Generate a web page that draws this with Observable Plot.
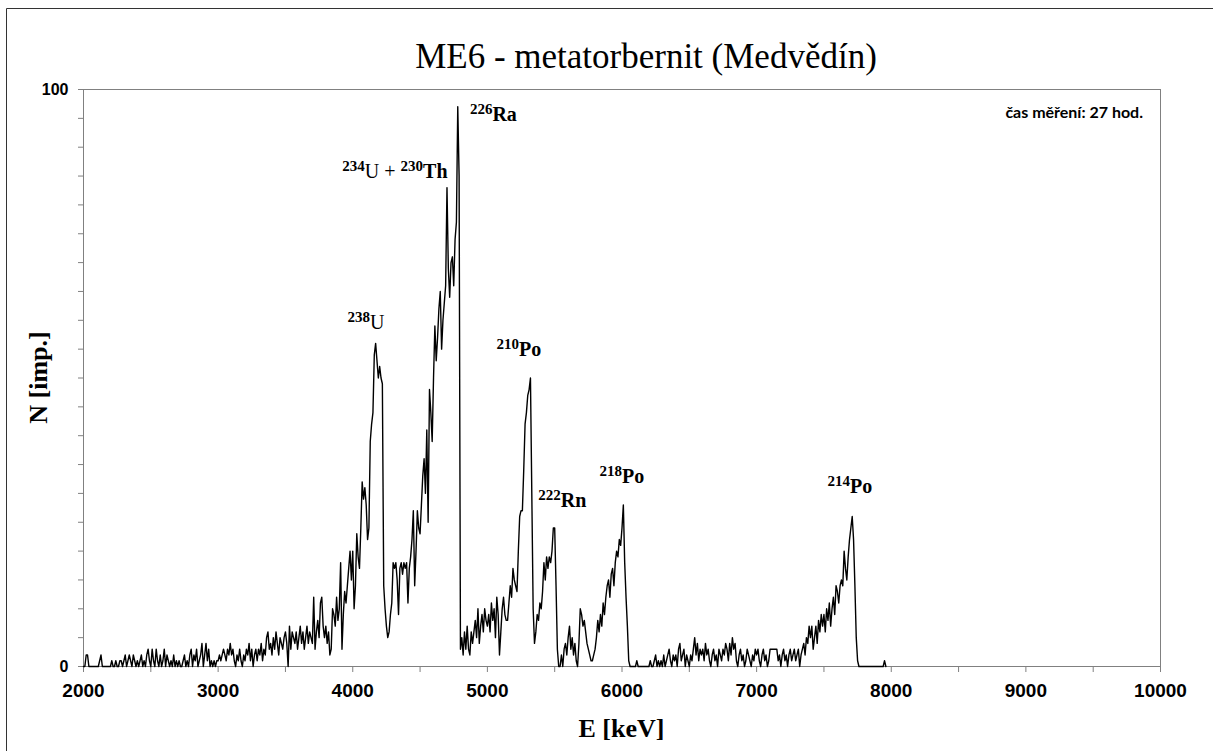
<!DOCTYPE html>
<html><head><meta charset="utf-8">
<script src="https://cdn.jsdelivr.net/npm/d3@7"></script>
<script src="https://cdn.jsdelivr.net/npm/@observablehq/plot@0.6"></script>
<style>body{margin:0;background:#fff} svg{display:block}</style>
</head><body><div id="chart"></div>
<script>
const title = "ME6 - metatorbernit (Medvědín)";
const xLabel = "E [keV]";
const yLabel = "N [imp.]";
const note = "čas měření: 27 hod.";

// spectrum: counts per 10 keV channel starting at 2000 keV
const startEnergy = 2000;
const channelWidth = 10;
const counts = [
  0,0,2,2,0,0,0,0,0,0,
  0,0,1,2,0,0,0,0,0,0,
  0,1,0,0,1,0,0,1,1,0,
  1,2,0,1,2,1,0,2,1,0,
  1,0,1,2,0,1,0,2,3,1,
  0,3,1,0,3,1,0,2,0,1,
  3,0,2,1,0,1,0,2,0,1,
  0,1,0,0,1,2,0,1,0,2,
  3,0,2,1,3,0,1,2,4,0,
  2,4,1,3,0,1,0,1,0,1,
  1,2,1,2,3,2,1,3,2,4,
  2,3,1,0,2,1,3,1,0,2,
  1,3,2,4,1,3,0,2,3,1,
  3,2,4,1,3,2,5,6,3,4,
  2,5,3,6,4,2,5,4,3,5,
  6,4,0,7,3,6,5,4,6,3,
  5,7,4,6,3,5,7,4,6,5,
  4,12,3,6,8,5,11,12,7,5,
  7,4,6,2,3,10,9,7,12,8,
  10,18,3,9,13,11,14,17,20,15,
  20,10,14,23,19,17,24,32,29,31,
  28,22,24,39,42,44,54,56,53,50,
  52,50,49,14,10,7,5,6,9,11,
  18,17,18,15,9,17,18,16,18,17,
  18,11,17,19,22,27,14,20,27,24,
  23,28,33,36,30,41,25,48,44,39,
  50,59,53,57,62,65,55,60,63,66,
  83,69,64,70,71,66,74,77,97,85,
  3,5,2,6,3,7,3,2,6,4,
  6,8,5,10,4,7,9,6,10,8,
  7,9,6,11,8,10,5,12,9,2,
  6,10,12,9,8,8,11,14,12,17,
  15,14,13,20,26,27,27,34,42,44,
  47,48,50,30,10,4,6,9,8,11,
  10,13,18,15,19,17,19,18,20,24,
  24,14,3,0,0,2,0,3,4,2,
  5,7,3,5,2,4,1,0,4,10,
  9,7,8,6,4,3,2,1,1,2,
  3,5,8,6,9,7,11,9,12,14,
  15,12,16,17,14,18,20,19,22,21,
  24,28,18,12,7,1,0,0,0,0,
  0,1,0,0,0,0,0,0,0,0,
  0,1,0,0,1,2,0,1,0,1,
  0,2,0,1,2,3,1,0,2,1,
  2,0,3,4,1,2,3,0,2,1,
  0,2,1,3,5,2,4,1,3,2,
  3,1,4,2,3,1,0,2,3,1,
  2,0,3,2,1,3,2,4,3,1,
  4,2,5,3,4,1,0,2,3,1,
  2,0,1,3,2,1,0,2,1,3,
  2,3,1,0,2,3,1,2,0,1,
  3,3,3,3,3,3,1,2,0,2,
  3,1,2,0,2,3,1,2,3,1,
  2,3,0,2,3,4,2,5,4,7,
  5,7,3,5,7,4,8,6,9,7,
  9,6,10,8,11,7,10,12,9,14,
  13,11,14,15,14,20,17,15,19,22,
  24,26,22,14,5,1,0,0,0,0,
  0,0,0,0,0,0,0,0,0,0,
  0,0,0,0,0,1,0
];

const xTickLabels = [2000, 3000, 4000, 5000, 6000, 7000, 8000, 9000, 10000];
const xMinorTicks = [2000, 2500, 3000, 3500, 4000, 4500, 5000, 5500, 6000, 6500, 7000, 7500, 8000, 8500, 9000, 9500, 10000];
const yTickLabels = [0, 100];
const yMinorTicks = [0, 5, 10, 15, 20, 25, 30, 35, 40, 45, 50, 55, 60, 65, 70, 75, 80, 85, 90, 95, 100];

// peak annotations (mass number as superscript + element)
const labelParts = [
  [["238", "sup"], ["U", "r"]],
  [["234", "sup"], ["U + ", "r"], ["230", "sup"], ["Th", "b"]],
  [["226", "sup"], ["Ra", "b"]],
  [["210", "sup"], ["Po", "b"]],
  [["222", "sup"], ["Rn", "b"]],
  [["218", "sup"], ["Po", "b"]],
  [["214", "sup"], ["Po", "b"]]
];
const labelE = [4102, 4317, 4874, 5238, 5561, 6003, 7696];
const labelN = [58.4, 84.6, 94.5, 53.7, 27.6, 31.7, 30];
const labelAnchor = ["middle", "middle", "start", "middle", "middle", "middle", "middle"];

const SERIF = "'Liberation Serif', 'Times New Roman', Times, serif";
const SANS = "'Liberation Sans', Arial, Helvetica, sans-serif";

const data = counts.map((n, i) => ({E: startEnergy + i * channelWidth, N: n}));

const chart = Plot.plot({
  width: 1213,
  height: 751,
  marginLeft: 83,
  marginRight: 53,
  marginTop: 89,
  marginBottom: 85,
  style: {background: "white", overflow: "visible"},
  x: {domain: [2000, 10000]},
  y: {domain: [0, 100]},
  marks: [
    Plot.frame({stroke: "#808080"}),
    Plot.axisX(xMinorTicks, {tickSize: 6, stroke: "#808080", fill: "none", label: null, tickFormat: () => ""}),
    Plot.axisX(xTickLabels, {tickSize: 0, tickPadding: 17, stroke: "none", fill: "black", fontSize: 19, fontWeight: "bold", fontFamily: SANS, label: null, tickFormat: d => String(d)}),
    Plot.axisY(yMinorTicks, {tickSize: 5, stroke: "#808080", fill: "none", label: null, tickFormat: () => ""}),
    Plot.axisY(yTickLabels, {tickSize: 0, tickPadding: 15, stroke: "none", fill: "black", fontSize: 16, fontWeight: "bold", fontFamily: SANS, label: null, tickFormat: d => String(d)}),
    Plot.line(data, {x: "E", y: "N", stroke: "black", strokeWidth: 1.4})
  ]
});

document.getElementById("chart").appendChild(chart);
const svg = d3.select(chart);
const sx = chart.scale("x"), sy = chart.scale("y");

// outer border (left and top visible)
svg.append("path").attr("d", "M6.5,751V8.5H1213").attr("fill", "none").attr("stroke", "#333").attr("stroke-width", 1);

svg.append("text")
  .attr("x", 646).attr("y", 68).attr("text-anchor", "middle")
  .attr("font-family", SERIF).attr("font-size", 35).attr("fill", "black")
  .text(title);

svg.append("text")
  .attr("x", (sx.apply(2000) + sx.apply(10000)) / 2).attr("y", 737).attr("text-anchor", "middle")
  .attr("font-family", SERIF).attr("font-size", 26).attr("font-weight", "bold").attr("fill", "black")
  .text(xLabel);

svg.append("text")
  .attr("transform", `translate(47,${(sy.apply(0) + sy.apply(100)) / 2}) rotate(-90)`).attr("text-anchor", "middle")
  .attr("font-family", SERIF).attr("font-size", 26).attr("font-weight", "bold").attr("fill", "black")
  .text(yLabel);

svg.append("text")
  .attr("x", 1143).attr("y", 118).attr("text-anchor", "end")
  .attr("font-family", "Lato, 'Open Sans', sans-serif").attr("font-size", 16).attr("font-weight", "bold").attr("fill", "black")
  .text(note);

labelParts.forEach((parts, k) => {
  const t = svg.append("text")
    .attr("x", sx.apply(labelE[k])).attr("y", sy.apply(labelN[k]))
    .attr("text-anchor", labelAnchor[k])
    .attr("font-family", SERIF).attr("fill", "black");
  let shift = 0;
  parts.forEach(([s, kind]) => {
    const want = kind === "sup" ? -7 : 0;
    t.append("tspan")
      .attr("dy", want - shift)
      .attr("font-size", kind === "sup" ? 15 : 20)
      .attr("font-weight", kind === "r" ? "normal" : "bold")
      .text(s);
    shift = want;
  });
});
</script>
</body></html>
